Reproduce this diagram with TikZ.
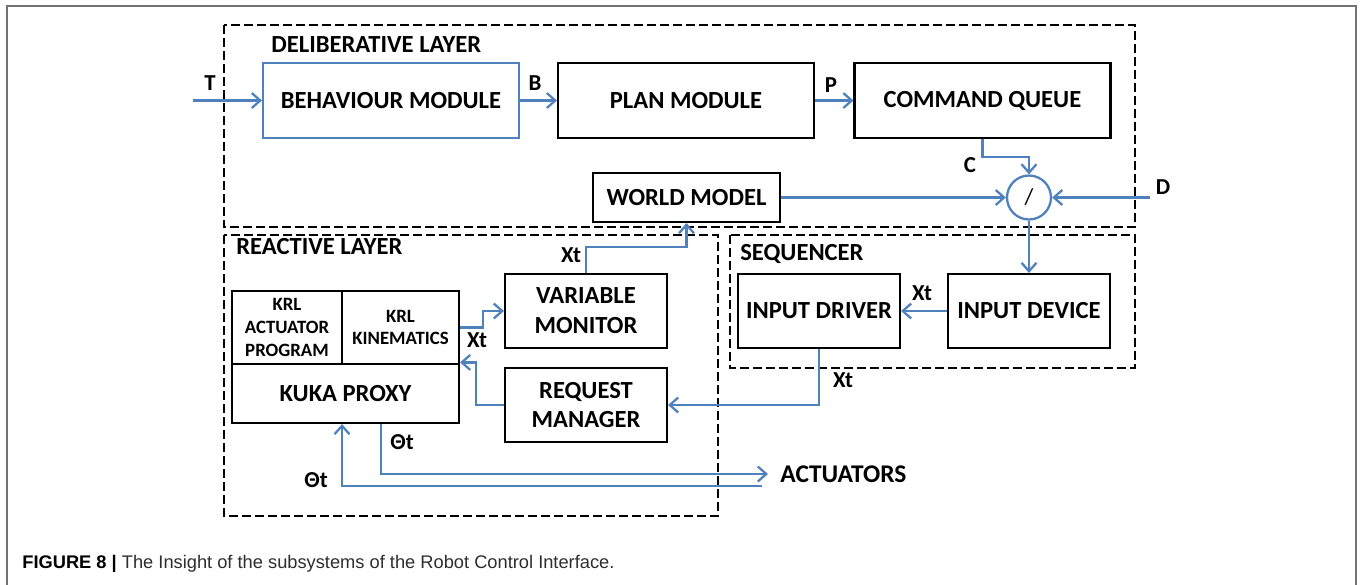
\documentclass[tikz,border=0pt]{standalone}
\usepackage{fontspec}
\setmainfont{Carlito}
\newfontfamily\capfont{Liberation Sans}
\usetikzlibrary{arrows.meta}
\definecolor{lineblue}{RGB}{79,129,189}
\definecolor{framegray}{RGB}{115,115,115}
\definecolor{captext}{RGB}{45,45,45}

\begin{document}
\begin{tikzpicture}[
      x=0.02cm, y=-0.02cm,
      box/.style={draw,line width=1.2pt,inner sep=0pt,align=center,
                  font=\bfseries\fontsize{14}{17}\selectfont},
      wide/.style={box,minimum width=5.12cm,minimum height=1.5cm},
      small/.style={box,minimum width=3.24cm,minimum height=1.48cm},
      krl/.style={box,font=\bfseries\fontsize{10.7}{13}\selectfont},
      grp/.style={draw,line width=1.1pt,dash pattern=on 5pt off 2.4pt},
      arr/.style={-{Straight Barb[length=4.8pt,width=8.5pt]},lineblue,line width=1.3pt},
      lbl/.style={font=\bfseries\fontsize{13}{15}\selectfont,inner sep=0pt},
      title/.style={font=\bfseries\fontsize{14}{16}\selectfont,anchor=west,inner sep=0pt},
    ]
    \useasboundingbox (0,0) rectangle (1360,585);

    % ── Outer frame ────────────────────────────────────────────────────────
    \draw[framegray,line width=1.2pt] (7,600) -- (7,6) -- (1356,6) -- (1356,600);

    % ── Group boxes ────────────────────────────────────────────────────────
    \draw[grp] (224,25) rectangle (1135,227);
    \draw[grp] (224,235) rectangle (718,516);
    \draw[grp] (730,235) rectangle (1135,368);
    \node[title] at (271,45)  {DELIBERATIVE LAYER};
    \node[title] at (236,247) {REACTIVE LAYER};
    \node[title] at (740,254) {SEQUENCER};

    % ── Deliberative layer ─────────────────────────────────────────────────
    \node[wide,draw=lineblue] (bm) at (391,100.5) {BEHAVIOUR MODULE};
    \node[wide] (pm) at (686,100.5) {PLAN MODULE};
    \node[wide] (cq) at (982.5,100.5) {COMMAND QUEUE};
    \node[box,minimum width=3.74cm,minimum height=0.98cm] (wm) at (686.5,197.5) {WORLD MODEL};
    \node[draw=lineblue,line width=1.3pt,circle,minimum size=0.88cm,inner sep=0pt,
          font=\fontsize{13}{15}\selectfont] (div) at (1029,197.5) {/};

    % ── Reactive layer ─────────────────────────────────────────────────────
    \node[krl,minimum width=2.2cm,minimum height=1.46cm] (krla) at (287,327.5)
          {KRL\\ACTUATOR\\PROGRAM};
    \node[krl,minimum width=2.34cm,minimum height=1.46cm] (krlk) at (400.5,327.5)
          {KRL\\KINEMATICS};
    \node[box,minimum width=4.54cm,minimum height=1.18cm] (kp) at (345.5,393.5) {KUKA PROXY};
    \node[small] (vm) at (586,311) {VARIABLE\\MONITOR};
    \node[small] (rm) at (586,405) {REQUEST\\MANAGER};

    % ── Sequencer ──────────────────────────────────────────────────────────
    \node[small] (idr) at (819,311) {INPUT DRIVER};
    \node[small] (idv) at (1029,311) {INPUT DEVICE};

    % ── Inputs and outputs ─────────────────────────────────────────────────
    \coordinate (tin) at (193,100.5);
    \coordinate (din) at (1150,197.5);
    \coordinate (fb)  at (762,486);
    \node[anchor=west,inner sep=0pt,font=\bfseries\fontsize{14.5}{16}\selectfont]
          (act) at (780,474) {ACTUATORS};

    % ── Connections ────────────────────────────────────────────────────────
    \draw[arr] (tin) -- (bm.west);
    \draw[arr] (bm.east) -- (pm.west);
    \draw[arr] (pm.east) -- (cq.west);
    \draw[arr] (cq.south) -- ++(0,18) -| (div.north);
    \draw[arr] (wm.east) -- (div.west);
    \draw[arr] (din) -- (div.east);
    \draw[arr] (div.south) -- (idv.north);
    \draw[arr] (idv.west) -- (idr.east);
    \draw[arr] (idr.south) |- (rm.east);
    \draw[arr] (krlk.east) -- ++(23,0) |- (vm.west);
    \draw[arr] (rm.west) -- ++(-28,0) |- ([yshift=1.5pt]krlk.south east);
    \draw[arr] (vm.north) -- ++(0,-26) -| (wm.south);
    \draw[arr] ([xshift=0.71cm]kp.south) |- ([xshift=-0.24cm]act.west);
    \draw[arr] (fb) -| ([xshift=-0.07cm]kp.south);

    % ── Labels ─────────────────────────────────────────────────────────────
    \node[lbl] at (210,83)  {T};
    \node[lbl] at (535,83)  {B};
    \node[lbl] at (831,85)  {P};
    \node[lbl] at (970,165) {C};
    \node[lbl] at (1163,187) {D};
    \node[lbl] at (571,255) {Xt};
    \node[lbl] at (477,340) {Xt};
    \node[lbl] at (922,293) {Xt};
    \node[lbl] at (843,380) {Xt};
    \node[lbl] at (402,442) {Θt};
    \node[lbl] at (316,480) {Θt};

    % ── Caption ────────────────────────────────────────────────────────────
    \node[anchor=west,inner sep=0pt,text=captext,font=\capfont\fontsize{10.4}{12}\selectfont]
          (cap) at (22,564)
          {\textcolor{black}{\textbf{FIGURE 8 |}} The Insight of the subsystems of the Robot Control Interface.};

  \end{tikzpicture}
\end{document}
